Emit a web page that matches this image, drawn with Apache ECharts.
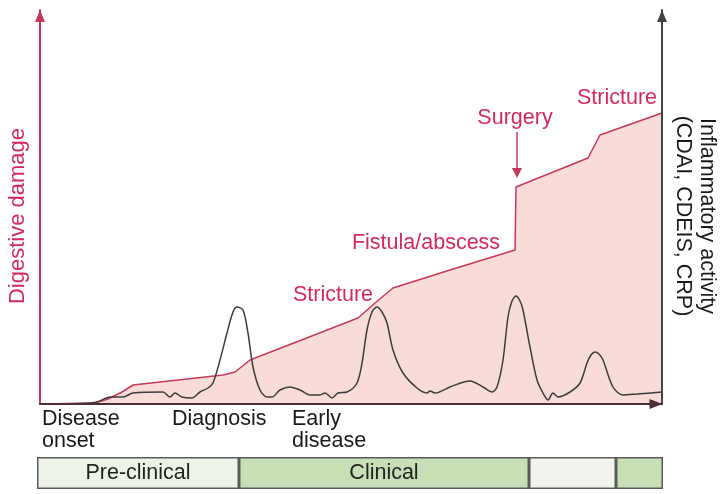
<!DOCTYPE html>
<html>
<head>
<meta charset="utf-8">
<script src="https://cdn.jsdelivr.net/npm/echarts@6/dist/echarts.min.js"></script>
<style>html,body{margin:0;padding:0;background:#fff}#c{width:722px;height:494px}</style>
</head>
<body>
<div id="c"></div>
<script>
// Time runs 0..622 (arbitrary units); levels 0..394 (arbitrary units)
var damageX = [0, 55, 68, 82, 93, 183, 195, 210, 318, 335, 353, 410, 475, 476, 548, 560, 622];
var damageY = [0, 1, 5, 12, 19, 29, 32, 44, 86, 101, 116, 134, 154, 217, 246, 269, 291];

var inflamX = [0,40,57,70,83,93,123,130,135,142,152,160,168,173,180,187,193,197,203,208,213,220,227,232,240,250,260,270,280,285,292,298,307,317,322,327,332,337,342,347,353,363,377,387,390,395,410,430,443,452,457,463,468,472,476,480,483,490,497,503,508,513,518,530,540,547,551,555,559,563,573,583,597,622];
var inflamY = [0,0.5,2,7,7,11,12,7,11,7,6,12,16,21,44,71,92,97,94,71,37,14,7,7,14,17,14,9,9,11,6,11,12,21,41,74,92,97,92,81,54,31,16,11,13,11,17,23,17,12,17,44,87,103,108,103,94,57,24,11,4,11,7,12,21,41,49,52,50,44,17,9,10,12];

var timeLabelValues = [2, 132, 252];
var timeLabels = ['Disease\nonset', 'Diagnosis', 'Early\ndisease'];

var eventLabels = ['Stricture', 'Fistula/abscess', 'Surgery', 'Stricture'];
var eventX = [293, 386, 475, 577];
var eventY = [109, 161, 286, 306];
var surgeryArrowX = 477;
var surgeryArrowY = [272, 231];

var phaseNames = ['Pre-clinical', 'Clinical', '', ''];
var phaseLengths = [202, 290, 87, 47];
var phaseColors = ['#eef3e7', '#c7dfb5', '#f1f4ed', '#c7dfb5'];

var yLeftName = 'Digestive damage';
var yRightName = 'Inflammatory activity\n(CDAI, CDEIS, CRP)';

var FONT = '"Liberation Sans", Arial, sans-serif';
var FS = 21.5;
var RED = '#c8385a';
var RED_TXT = '#d42a5b';

function pairs(xs, ys) { return xs.map(function (x, i) { return [x, ys[i]]; }); }

var chart = echarts.init(document.getElementById('c'), null, { renderer: 'canvas' });

var phaseSeries = phaseNames.map(function (n, i) {
  return {
    type: 'bar', xAxisIndex: 1, yAxisIndex: 2, stack: 'phase', barWidth: '100%',
    data: [phaseLengths[i]], silent: true,
    itemStyle: { color: phaseColors[i], borderColor: '#5a5a5a', borderWidth: 1.5 },
    label: { show: n !== '', formatter: n, position: 'inside', color: '#222', fontSize: FS, fontFamily: FONT }
  };
});

var option = {
  animation: false,
  grid: [
    { left: 40, right: 60, top: 10, bottom: 90 },
    { left: 37, right: 59, top: 457, height: 32 }
  ],
  xAxis: [
    {
      type: 'value', min: 0, max: 622, gridIndex: 0, z: 5,
      splitLine: { show: false },
      axisTick: { show: false },
      axisLine: { show: true, onZero: false, lineStyle: { color: '#4a3036', width: 2 },
        symbol: ['none', 'triangle'], symbolSize: [10, 13], symbolOffset: [0, -6] },
      axisLabel: {
        show: true, customValues: timeLabelValues, align: 'left', verticalAlign: 'top',
        margin: 4, color: '#1a1a1a', fontSize: FS, fontFamily: FONT, lineHeight: 22,
        formatter: function (v) { var i = timeLabelValues.indexOf(v); return i >= 0 ? timeLabels[i] : ''; }
      }
    },
    { type: 'value', min: 0, max: 626, gridIndex: 1, show: false }
  ],
  yAxis: [
    {
      type: 'value', min: 0, max: 394, gridIndex: 0, position: 'left', z: 5,
      splitLine: { show: false }, axisTick: { show: false }, axisLabel: { show: false },
      axisLine: { show: true, lineStyle: { color: RED, width: 2 },
        symbol: ['none', 'triangle'], symbolSize: [10, 12], symbolOffset: [0, -6] }
    },
    {
      type: 'value', min: 0, max: 394, gridIndex: 0, position: 'right', z: 4,
      splitLine: { show: false }, axisTick: { show: false }, axisLabel: { show: false },
      axisLine: { show: true, lineStyle: { color: '#444', width: 2 },
        symbol: ['none', 'triangle'], symbolSize: [10, 12], symbolOffset: [0, -6] }
    },
    { type: 'category', gridIndex: 1, data: ['phase'], show: false }
  ],
  graphic: [
    { type: 'text', x: 18, y: 216, rotation: Math.PI / 2,
      style: { text: yLeftName, fill: RED_TXT, font: '22px ' + FONT, align: 'center', verticalAlign: 'middle' } },
    { type: 'text', x: 695, y: 216, rotation: -Math.PI / 2,
      style: { text: yRightName, fill: '#1a1a1a', font: FS + 'px ' + FONT, align: 'center', verticalAlign: 'middle', lineHeight: 24 } }
  ],
  series: [
    {
      type: 'line', xAxisIndex: 0, yAxisIndex: 0, data: pairs(damageX, damageY),
      symbol: 'none', z: 1,
      lineStyle: { color: RED, width: 1.5 },
      areaStyle: { color: '#f9dcd8', opacity: 1 },
      markPoint: {
        symbol: 'circle', symbolSize: 1, itemStyle: { color: 'rgba(0,0,0,0)' },
        label: { show: true, position: 'inside', color: RED_TXT, fontSize: FS, fontFamily: FONT },
        data: eventLabels.map(function (t, i) {
          return { coord: [eventX[i], eventY[i]], label: { formatter: t } };
        })
      },
      markLine: {
        silent: true, symbol: ['none', 'triangle'], symbolSize: 10,
        lineStyle: { color: RED, width: 1.5, type: 'solid' },
        label: { show: false },
        data: [[{ coord: [surgeryArrowX, surgeryArrowY[0]] }, { coord: [surgeryArrowX, surgeryArrowY[1]] }]]
      }
    },
    {
      type: 'line', xAxisIndex: 0, yAxisIndex: 1, data: pairs(inflamX, inflamY),
      symbol: 'none', smooth: 0.3, z: 3,
      lineStyle: { color: '#3c3c3c', width: 1.5 }
    }
  ].concat(phaseSeries)
};
chart.setOption(option);
</script>
</body>
</html>
